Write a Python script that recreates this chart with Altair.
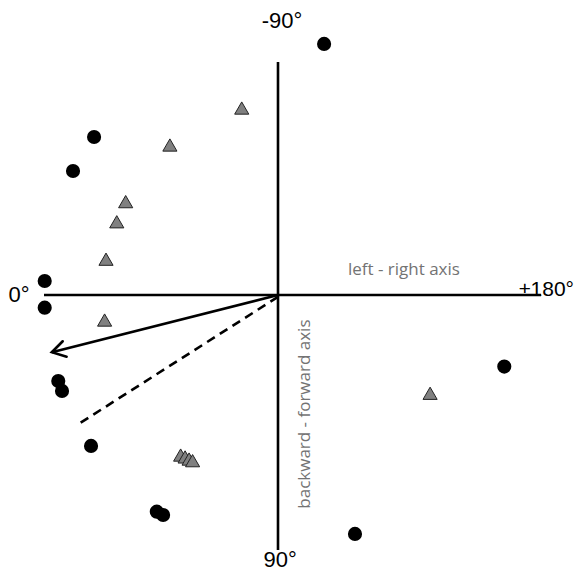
import altair as alt
import pandas as pd
import numpy as np

# Coordinates: x = left-right axis (0° at -1, ±180° at +1), y = backward-forward axis (-90° at top, 90° at bottom)
circle_x = [0.197, -0.786, -0.876, -0.997, -0.997, -0.939, -0.923, -0.799, -0.518, -0.491, 0.329, 0.967]
circle_y = [-1.073, -0.675, -0.530, -0.060, 0.054, 0.368, 0.410, 0.645, 0.926, 0.940, 1.021, 0.306]

tri_x = [-0.155, -0.462, -0.651, -0.689, -0.735, -0.741, -0.416, -0.397, -0.380, -0.365, 0.650]
tri_y = [-0.799, -0.641, -0.399, -0.313, -0.153, 0.107, 0.684, 0.692, 0.701, 0.708, 0.420]

# mean vectors: angle (deg, 0° = left, 90° = down) and length
arrow_names = ["solid", "dashed"]
arrow_angle = [14.2, 32.9]
arrow_len = [0.997, 1.007]

# axis lines
axis_x = [-1.0, 0.0]
axis_x2 = [1.124, 0.0]
axis_y = [0.0, -0.996]
axis_y2 = [0.0, 1.090]

label_text = ["-90°", "90°", "0°"]
label_x = [0.017, 0.009, -1.107]
label_y = [-1.171, 1.133, 0.0]

R = 234.0
W, H = 568, 566
CX, CY = 270, 287
xs = alt.Scale(domain=[-CX / R, (W - CX) / R], nice=False, zero=False)
ys = alt.Scale(domain=[-CY / R, (H - CY) / R], nice=False, zero=False, reverse=True)
X = lambda f: alt.X(f, type="quantitative", scale=xs, axis=None)
Y = lambda f: alt.Y(f, type="quantitative", scale=ys, axis=None)

axes_df = pd.DataFrame({"x": axis_x, "x2": axis_x2, "y": axis_y, "y2": axis_y2})
axes = alt.Chart(axes_df).mark_rule(color="black", strokeWidth=2.6).encode(
    x=X("x"), x2="x2", y=Y("y"), y2="y2")

th = np.radians(arrow_angle)
arr_df = pd.DataFrame({
    "name": arrow_names,
    "x0": [0.0, 0.0], "y0": [0.0, 0.008],
    "x1": -np.array(arrow_len) * np.cos(th),
    "y1": np.array(arrow_len) * np.sin(th),
    "rot": 180 - np.array(arrow_angle),
})
solid = alt.Chart(arr_df[arr_df.name == "solid"]).mark_rule(
    color="black", strokeWidth=2.6).encode(x=X("x0"), x2="x1", y=Y("y0"), y2="y1")
dashed = alt.Chart(arr_df[arr_df.name == "dashed"]).mark_rule(
    color="black", strokeWidth=2.6, strokeDash=[9, 6]).encode(x=X("x0"), x2="x1", y=Y("y0"), y2="y1")
head = alt.Chart(arr_df[arr_df.name == "solid"]).mark_point(
    shape="M-1,-0.6L0,0L-1,0.6", filled=False, stroke="black", strokeWidth=2.6,
    size=700, opacity=1, strokeCap="round", strokeJoin="miter").encode(
    x=X("x1"), y=Y("y1"), angle=alt.Angle("rot:Q", scale=None))

circ_df = pd.DataFrame({"x": circle_x, "y": circle_y})
circles = alt.Chart(circ_df).mark_point(
    shape="circle", filled=True, color="black", size=200, opacity=1).encode(x=X("x"), y=Y("y"))

tri_df = pd.DataFrame({"x": tri_x, "y": tri_y})
tris = alt.Chart(tri_df).mark_point(
    shape="triangle-up", filled=True, fill="#808080", stroke="#222222", strokeWidth=1,
    size=200, opacity=1, fillOpacity=1).encode(x=X("x"), y=Y("y"))

lab_df = pd.DataFrame({"t": label_text, "x": label_x, "y": label_y})
labels = alt.Chart(lab_df).mark_text(
    font="Liberation Sans", fontSize=22, color="black", baseline="middle", align="center").encode(
    x=X("x"), y=Y("y"), text="t:N")

pm = alt.Chart(pd.DataFrame({"t": ["±180°"], "x": [1.030], "y": [-0.021]})).mark_text(
    font="Liberation Sans", fontSize=21, color="black", baseline="middle", align="left").encode(
    x=X("x"), y=Y("y"), text="t:N")

lr = alt.Chart(pd.DataFrame({"t": ["left - right axis"], "x": [0.538], "y": [-0.107]})).mark_text(
    font="Open Sans", fontSize=17, color="#737373", baseline="middle", align="center").encode(
    x=X("x"), y=Y("y"), text="t:N")

bf = alt.Chart(pd.DataFrame({"t": ["backward - forward axis"], "x": [0.115], "y": [0.509]})).mark_text(
    font="Open Sans", fontSize=17, color="#737373", baseline="middle", align="center", angle=270).encode(
    x=X("x"), y=Y("y"), text="t:N")

chart = alt.layer(axes, dashed, solid, head, tris, circles, labels, pm, lr, bf).properties(
    width=W, height=H, padding=0, autosize=alt.AutoSizeParams(type="none")
).configure_view(stroke=None)

chart.save("out.html", embed_options={"renderer": "svg", "actions": False})
